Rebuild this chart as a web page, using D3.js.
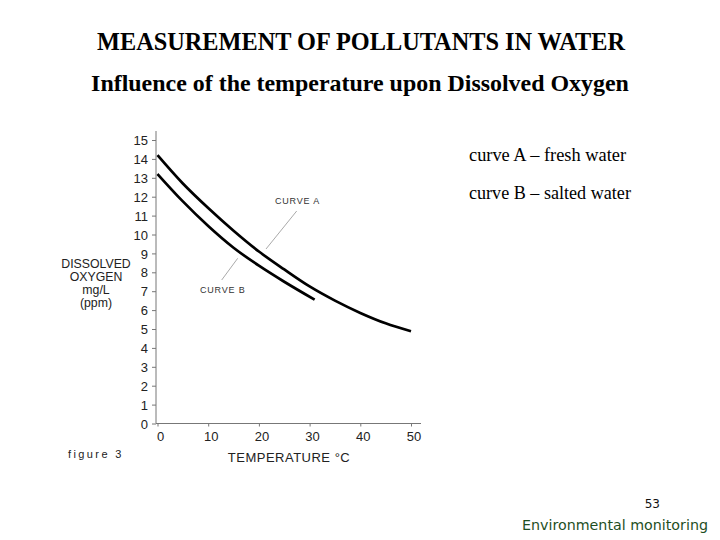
<!DOCTYPE html>
<html>
<head>
<meta charset="utf-8">
<script src="https://cdn.jsdelivr.net/npm/d3@7"></script>
<style>
html,body{margin:0;padding:0;background:#fff;}
svg{display:block;}
</style>
</head>
<body>
<svg id="chart" width="720" height="540"></svg>
<script>
// ---- data ----
const tempA = [0, 5, 10, 15, 20, 25, 30, 35, 40, 45, 50];
const doA   = [14.2, 12.7, 11.4, 10.2, 9.1, 8.15, 7.25, 6.5, 5.85, 5.3, 4.88];
const tempB = [0, 5, 10, 15, 20, 25, 31];
const doB   = [13.2, 11.75, 10.45, 9.3, 8.35, 7.5, 6.55];
const xTicks = [0, 10, 20, 30, 40, 50];
const yTicks = [0,1,2,3,4,5,6,7,8,9,10,11,12,13,14,15];
const yLabelLines = ["DISSOLVED", "OXYGEN", "mg/L", "(ppm)"];
const legendLines = ["curve A \u2013 fresh water", "curve B \u2013 salted water"];

const svg = d3.select("#chart");
const x = d3.scaleLinear().domain([0, 50]).range([157.5, 411]);
const y = d3.scaleLinear().domain([0, 15]).range([423.5, 140]);

// scale a text's font size so it spans a target width
function fitWidth(sel, target) {
  const node = sel.node();
  const fs = parseFloat(sel.style("font-size"));
  const w = node.getComputedTextLength();
  if (w > 0) sel.style("font-size", (fs * target / w).toFixed(2) + "px");
  return sel;
}

const serif = "Liberation Serif, Times New Roman, serif";
const sans = "Liberation Sans, Arial, sans-serif";

// titles
fitWidth(svg.append("text").attr("x", 361).attr("y", 50).attr("text-anchor", "middle")
  .style("font-family", serif).style("font-size", "22px").style("font-weight", "bold")
  .style("fill", "#000").text("MEASUREMENT OF POLLUTANTS IN WATER"), 528);
fitWidth(svg.append("text").attr("x", 360).attr("y", 91).attr("text-anchor", "middle")
  .style("font-family", serif).style("font-size", "22px")
  .style("font-weight", "bold").style("fill", "#000")
  .text("Influence of the temperature upon Dissolved Oxygen"), 538);

// axes
const axisColor = "#777";
const gy = svg.append("g").attr("transform", "translate(156,0)")
  .call(d3.axisLeft(y).tickValues(yTicks).tickSize(4).tickPadding(4).tickFormat(d3.format("d")));
gy.select(".domain").remove();
gy.selectAll(".tick line").attr("stroke", axisColor);
gy.selectAll(".tick text").style("font-family", sans)
  .style("font-size", "13px").style("fill", "#222").attr("dy", "0.36em");
svg.append("line").attr("x1", 156).attr("x2", 156).attr("y1", y(0)).attr("y2", 131)
  .attr("stroke", axisColor);

const gx = svg.append("g").attr("transform", `translate(0,${y(0)})`)
  .call(d3.axisBottom(x).tickValues(xTicks).tickSize(3).tickPadding(5).tickFormat(d3.format("d")));
gx.select(".domain").remove();
gx.selectAll(".tick line").attr("stroke", axisColor);
gx.selectAll(".tick text").style("font-family", sans)
  .style("font-size", "13px").style("fill", "#222").attr("dx", "2.5");
svg.append("line").attr("x1", 156).attr("x2", 421).attr("y1", y(0)).attr("y2", y(0))
  .attr("stroke", axisColor);

// curves
const line = d3.line().x(d => x(d[0])).y(d => y(d[1])).curve(d3.curveMonotoneX);
svg.append("path").datum(tempA.map((t, i) => [t, doA[i]])).attr("d", line)
  .attr("fill", "none").attr("stroke", "#000").attr("stroke-width", 2.7);
svg.append("path").datum(tempB.map((t, i) => [t, doB[i]])).attr("d", line)
  .attr("fill", "none").attr("stroke", "#000").attr("stroke-width", 2.7);

// curve labels + leaders
svg.append("text").attr("x", 275).attr("y", 204).style("font-family", sans)
  .style("font-size", "9px").style("letter-spacing", "0.8px").style("fill", "#333").text("CURVE A");
svg.append("line").attr("x1", 296.7).attr("y1", 211).attr("x2", 266).attr("y2", 249)
  .attr("stroke", "#aaa").attr("stroke-width", 1);
svg.append("text").attr("x", 200).attr("y", 293).style("font-family", sans)
  .style("font-size", "9px").style("letter-spacing", "0.8px").style("fill", "#333").text("CURVE B");
svg.append("line").attr("x1", 221.7).attr("y1", 280).attr("x2", 237.7).attr("y2", 258.3)
  .attr("stroke", "#aaa").attr("stroke-width", 1);

// y axis label
svg.append("g").selectAll("text").data(yLabelLines).join("text")
  .attr("x", 96).attr("y", (d, i) => 268 + i * 13).attr("text-anchor", "middle")
  .style("font-family", sans).style("font-size", "12.3px").style("fill", "#222").text(d => d);

// x axis label
svg.append("text").attr("x", 289).attr("y", 462).attr("text-anchor", "middle")
  .style("font-family", sans).style("font-size", "13px").style("letter-spacing", "0.5px")
  .style("fill", "#222").text("TEMPERATURE \u00B0C");

// figure label
svg.append("text").attr("x", 68).attr("y", 458).style("font-family", sans)
  .style("font-size", "11px").style("letter-spacing", "2.4px").style("fill", "#222").text("figure 3");

// legend
svg.append("g").selectAll("text").data(legendLines).join("text")
  .attr("x", 469).attr("y", (d, i) => 161 + i * 38)
  .style("font-family", serif).style("font-size", "16px")
  .style("fill", "#000").text(d => d)
  .each(function(d, i) { fitWidth(d3.select(this), i === 0 ? 157 : 162); });

// footer
svg.append("text").attr("x", 660).attr("y", 508).attr("text-anchor", "end")
  .style("font-family", "DejaVu Sans, Verdana, sans-serif").style("font-size", "12px")
  .style("fill", "#111").text("53");
fitWidth(svg.append("text").attr("x", 708).attr("y", 530).attr("text-anchor", "end")
  .style("font-family", "DejaVu Sans, Verdana, sans-serif").style("font-size", "13px")
  .style("fill", "#1f4f1f").text("Environmental monitoring"), 186);
</script>
</body>
</html>
